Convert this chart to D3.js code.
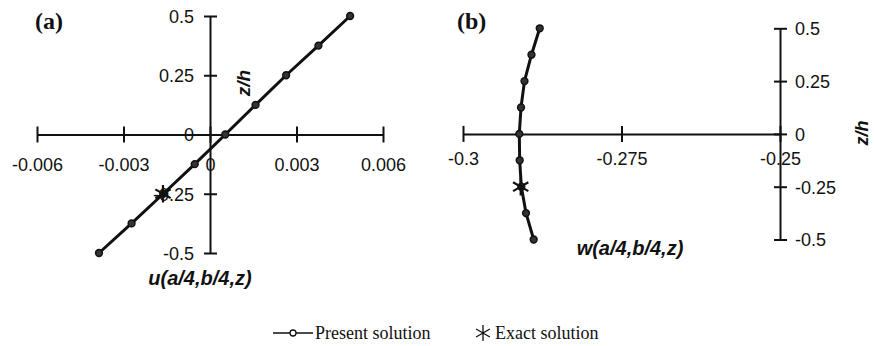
<!DOCTYPE html>
<html>
<head>
<meta charset="utf-8">
<script src="https://cdn.jsdelivr.net/npm/d3@7"></script>
<style>
body { margin: 0; background: #fff; }
text { fill: #111; }
</style>
</head>
<body>
<svg id="svg1" width="874" height="346"></svg>
<script>
// donnees
var zVals = [0.5, 0.375, 0.25, 0.125, 0, -0.125, -0.25, -0.375, -0.5];
var uPresent = [0.00486, 0.00376, 0.00264, 0.00158, 0.00053, -0.00053, -0.00162, -0.00272, -0.00385];
var wPresent = [-0.2879, -0.2892, -0.2903, -0.29085, -0.29112, -0.29106, -0.2908, -0.29006, -0.28885];
var uExact = [{z: -0.25, v: -0.00163}];
var wExact = [{z: -0.25, v: -0.2909}];

var uTicks = [-0.006, -0.003, 0, 0.003, 0.006];
var uTickLabels = ["-0.006", "-0.003", "0", "0.003", "0.006"];
var wTicks = [-0.3, -0.275, -0.25];
var wTickLabels = ["-0.3", "-0.275", "-0.25"];
var zTicks = [0.5, 0.25, 0, -0.25, -0.5];
var zTickLabels = ["0.5", "0.25", "0", "-0.25", "-0.5"];

var svg = d3.select("#svg1");
var noir = "#111";
var police = "'Liberation Sans', Arial, sans-serif";
var serif = "'Liberation Serif', 'Times New Roman', serif";

// echelles
var xA = d3.scaleLinear().domain([-0.006, 0.006]).range([37, 383]);
var yA = d3.scaleLinear().domain([-0.5, 0.5]).range([253, 16]);
var xB = d3.scaleLinear().domain([-0.3, -0.25]).range([463, 780]);
var yB = d3.scaleLinear().domain([-0.5, 0.5]).range([239.5, 28.3]);

function axeX(g, x, y0, ticks, labels, labelDy) {
    var ax = g.append("g").attr("transform", "translate(0," + y0 + ")")
        .call(d3.axisBottom(x).tickValues(ticks).tickSizeOuter(0)
            .tickFormat(function(d, i) { return labels[i]; }));
    ax.select(".domain").attr("stroke", noir).attr("stroke-width", 2);
    ax.selectAll(".tick line").attr("y1", -8).attr("y2", 8)
        .attr("stroke", noir).attr("stroke-width", 2);
    ax.selectAll(".tick text").attr("y", labelDy).attr("dy", "0.35em")
        .style("font-family", police).style("font-size", "18px").attr("fill", noir);
    return ax;
}

function axeY(g, y, x0, ticks, labels, gauche) {
    var ax = g.append("g").attr("transform", "translate(" + x0 + ",0)")
        .call(d3.axisLeft(y).tickValues(ticks).tickSizeOuter(0)
            .tickFormat(function(d, i) { return labels[i]; }));
    ax.select(".domain").attr("stroke", noir).attr("stroke-width", 2);
    ax.selectAll(".tick line").attr("x1", -6).attr("x2", 7)
        .attr("stroke", noir).attr("stroke-width", 2);
    ax.selectAll(".tick text").attr("dy", "0.35em")
        .attr("x", gauche ? -16 : 15)
        .attr("text-anchor", gauche ? "end" : "start")
        .style("font-family", police).style("font-size", "18px").attr("fill", noir);
    return ax;
}

function courbe(g, x, y, vals) {
    var pts = zVals.map(function(z, i) { return {z: z, v: vals[i]}; });
    var ligne = d3.line().x(function(d) { return x(d.v); }).y(function(d) { return y(d.z); });
    g.append("path").datum(pts).attr("d", ligne)
        .attr("fill", "none").attr("stroke", noir).attr("stroke-width", 3);
    g.selectAll(".pt").data(pts).enter().append("circle")
        .attr("class", "pt")
        .attr("cx", function(d) { return x(d.v); })
        .attr("cy", function(d) { return y(d.z); })
        .attr("r", 3.4).attr("fill", "#333").attr("stroke", noir).attr("stroke-width", 1.5);
}

var etoile = d3.symbol().type(d3.symbolAsterisk).size(220);

function exact(g, x, y, data) {
    g.selectAll(".ex").data(data).enter().append("path")
        .attr("class", "ex")
        .attr("transform", function(d) { return "translate(" + x(d.v) + "," + y(d.z) + ")"; })
        .attr("d", etoile).attr("fill", "none").attr("stroke", noir).attr("stroke-width", 2.2);
}

// panneau (a)
var gA = svg.append("g");
axeX(gA, xA, yA(0), uTicks, uTickLabels, 30);
axeY(gA, yA, xA(0), zTicks, zTickLabels, true);
courbe(gA, xA, yA, uPresent);
exact(gA, xA, yA, uExact);
gA.append("text").attr("x", 35).attr("y", 29).text("(a)")
    .style("font-family", serif).style("font-weight", "bold").style("font-size", "24px");
gA.append("text").attr("transform", "translate(250,83) rotate(-90)")
    .attr("text-anchor", "middle").text("z/h")
    .style("font-family", police).style("font-weight", "bold").style("font-style", "italic").style("font-size", "19px");
gA.append("text").attr("x", 200).attr("y", 285).attr("text-anchor", "middle").text("u(a/4,b/4,z)")
    .style("font-family", police).style("font-weight", "bold").style("font-style", "italic").style("font-size", "20px");

// panneau (b)
var gB = svg.append("g");
axeX(gB, xB, yB(0), wTicks, wTickLabels, 25);
axeY(gB, yB, xB(-0.25), zTicks, zTickLabels, false);
courbe(gB, xB, yB, wPresent);
exact(gB, xB, yB, wExact);
gB.append("text").attr("x", 457).attr("y", 29).text("(b)")
    .style("font-family", serif).style("font-weight", "bold").style("font-size", "24px");
gB.append("text").attr("transform", "translate(868,133) rotate(-90)")
    .attr("text-anchor", "middle").text("z/h")
    .style("font-family", police).style("font-weight", "bold").style("font-style", "italic").style("font-size", "18px");
gB.append("text").attr("x", 630).attr("y", 255).attr("text-anchor", "middle").text("w(a/4,b/4,z)")
    .style("font-family", police).style("font-weight", "bold").style("font-style", "italic").style("font-size", "20px");

// legende
var leg = svg.append("g");
leg.append("line").attr("x1", 273).attr("x2", 313).attr("y1", 333).attr("y2", 333)
    .attr("stroke", noir).attr("stroke-width", 1.5);
leg.append("circle").attr("cx", 293).attr("cy", 333).attr("r", 3)
    .attr("fill", "#fff").attr("stroke", noir).attr("stroke-width", 1.3);
leg.append("text").attr("x", 315).attr("y", 339).text("Present solution")
    .style("font-family", serif).style("font-size", "18px");
leg.append("path").attr("transform", "translate(483,333)")
    .attr("d", d3.symbol().type(d3.symbolAsterisk).size(180))
    .attr("fill", "none").attr("stroke", noir).attr("stroke-width", 1.3);
leg.append("text").attr("x", 495).attr("y", 339).text("Exact solution")
    .style("font-family", serif).style("font-size", "18px");
</script>
</body>
</html>
